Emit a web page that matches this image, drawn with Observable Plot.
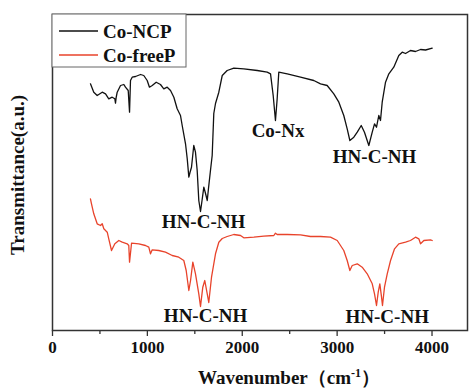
<!DOCTYPE html>
<html><head><meta charset="utf-8">
<script src="https://cdn.jsdelivr.net/npm/d3@7"></script>
<script src="https://cdn.jsdelivr.net/npm/@observablehq/plot@0.6"></script>
<style>
html,body{margin:0;padding:0;background:#fff;}
svg{display:block;}
</style></head>
<body><div id="chart"></div>
<script>
// Co-NCP (black) spectrum: wavenumber (cm-1) and transmittance (a.u.)
const ncpX = [400,435,471,524,559,593,629,657,664,671,682,717,752,769,798,812,822,840,875,928,962,998,1022,1051,1093,1138,1173,1209,1244,1279,1314,1349,1367,1402,1420,1437,1449,1465,1489,1507,1525,1542,1560,1576,1595,1613,1631,1644,1665,1683,1700,1718,1753,1789,1841,1911,2016,2158,2263,2298,2326,2350,2368,2385,2474,2614,2754,2825,2895,2965,3018,3070,3106,3134,3176,3212,3254,3288,3334,3370,3394,3415,3439,3457,3475,3510,3545,3597,3650,3686,3721,3756,3773,3826,3879,3932,4002];
const ncpY = [246.7,238.3,235,238.3,236.7,231.7,233.3,231.7,227.3,233,238.3,245,246,243.3,240,218.3,250,253.3,254,256,255,250,243.3,245,248.3,246,241.7,243.3,240,233.3,221.7,215,205,186.7,171.7,153.3,158,163.3,185,178.3,160,130,119,130,143.3,137,130,142,160,175,217,227,238.3,255,260,262.3,261.7,260,258.3,256.7,235,210,231.7,258.3,256.7,253.3,250,246.7,245,236.7,228.3,215,201.7,190,193.3,198.3,205,198.3,185,198.3,206.7,203.3,215,210,228.3,248.3,256.7,263.3,275,278.3,277,279,280,279,281,280.5,282.3];
// Co-freeP (red) spectrum
const freeX = [400,411,435,471,506,524,541,577,593,622,657,699,735,787,804,812,833,910,980,1015,1033,1051,1120,1191,1262,1331,1384,1409,1437,1455,1479,1507,1542,1560,1584,1605,1631,1647,1676,1718,1753,1789,1841,1911,1982,2016,2122,2227,2333,2350,2368,2474,2614,2719,2825,2930,3001,3070,3106,3134,3159,3212,3264,3317,3370,3394,3415,3433,3450,3468,3478,3499,3528,3563,3605,3650,3721,3773,3826,3861,3879,3914,3984,4002];
const freeY = [131.7,126.7,116.7,106.7,105,106.7,101.7,98.3,91.7,80,86.7,90,88.3,86.7,85,68.3,87.3,86.7,85,83.3,76.7,80.7,80,78.3,75,73.3,70,60,40,50,68.3,56.7,36.7,24,43.3,50,36.7,28,53.3,76.7,88.3,92,94,96,95,92.7,93.3,94.3,95,97.3,96,96,95.7,94,94,93.3,90,80,70,60,65,66.7,63.3,56.7,46.7,36.7,25,38.3,46.7,33.3,25,43.3,56.7,70,81.7,86.7,88.3,90,93.3,91.7,86.7,90,90.7,90];
// Annotations
const annText = ["Co-Nx","HN-C-NH","HN-C-NH","HN-C-NH","HN-C-NH"];
const annX = [2377,3394,1592,1613,3528];
const annY = [200,174,108.3,15,13.3];
const seriesNames = ["Co-NCP","Co-freeP"];
const seriesColors = ["#111111","#e8432b"];
const majorTicks = [0,1000,2000,3000,4000];
const minorTicks = [500,1500,2500,3500];
const xLabel = "Wavenumber（cm";
const yLabel = "Transmittance(a.u.)";

const ncp = ncpX.map((x,i)=>({x, y:ncpY[i]}));
const free = freeX.map((x,i)=>({x, y:freeY[i]}));
const ann = annText.map((t,i)=>({t, x:annX[i], y:annY[i]}));
const FONT = "'Liberation Serif','Times New Roman',serif";

const plot = Plot.plot({
  width: 469, height: 389,
  marginLeft: 52, marginRight: 2, marginTop: 14, marginBottom: 59,
  style: {fontFamily: FONT, background: "#fff"},
  x: {domain: [0, 4374], label: null},
  y: {domain: [0, 316], axis: null},
  marks: [
    Plot.axisX(minorTicks, {tickSize: 4, text: null, label: null, stroke: "#333", strokeWidth: 1.3}),
    Plot.axisX(majorTicks, {tickSize: 6, tickPadding: 4, stroke: "#333", strokeWidth: 1.3,
      fontSize: 17, fontWeight: "bold", fill: "#111", label: null, tickFormat: d => String(d)}),
    Plot.line(ncp, {x: "x", y: "y", stroke: seriesColors[0], strokeWidth: 1.3}),
    Plot.line(free, {x: "x", y: "y", stroke: seriesColors[1], strokeWidth: 1.3}),
    Plot.text(ann, {x: "x", y: "y", text: "t", fontSize: 19, fontWeight: "bold", fill: "#111"}),
    Plot.frame({stroke: "#333", strokeWidth: 1.5})
  ]
});
document.getElementById("chart").appendChild(plot);

const svg = d3.select(plot);
// legend
const lg = svg.append("g");
lg.append("rect").attr("x", 52).attr("y", 14).attr("width", 134).attr("height", 53)
  .attr("fill", "#fff").attr("stroke", "#666").attr("stroke-width", 1);
seriesNames.forEach((n, i) => {
  const yy = 31 + i * 24;
  lg.append("line").attr("x1", 59).attr("x2", 98).attr("y1", yy).attr("y2", yy)
    .attr("stroke", seriesColors[i]).attr("stroke-width", 1.3);
  lg.append("text").attr("x", 103).attr("y", yy).attr("dy", "0.35em")
    .attr("text-anchor", "start")
    .attr("font-family", FONT).attr("font-weight", "bold").attr("font-size", 19)
    .attr("fill", "#111").text(n);
});
// x axis title
const xt = svg.append("text").attr("x", 289).attr("y", 384).attr("text-anchor", "middle")
  .attr("font-family", FONT).attr("font-weight", "bold").attr("font-size", 19).attr("fill", "#111");
xt.append("tspan").text(xLabel);
xt.append("tspan").attr("dy", -7).attr("font-size", 12).text("-1");
xt.append("tspan").attr("dy", 7).text("）");
// y axis title
svg.append("text").attr("transform", "translate(24,175) rotate(-90)").attr("text-anchor", "middle")
  .attr("font-family", FONT).attr("font-weight", "bold").attr("font-size", 19).attr("fill", "#111")
  .text(yLabel);
</script></body></html>
